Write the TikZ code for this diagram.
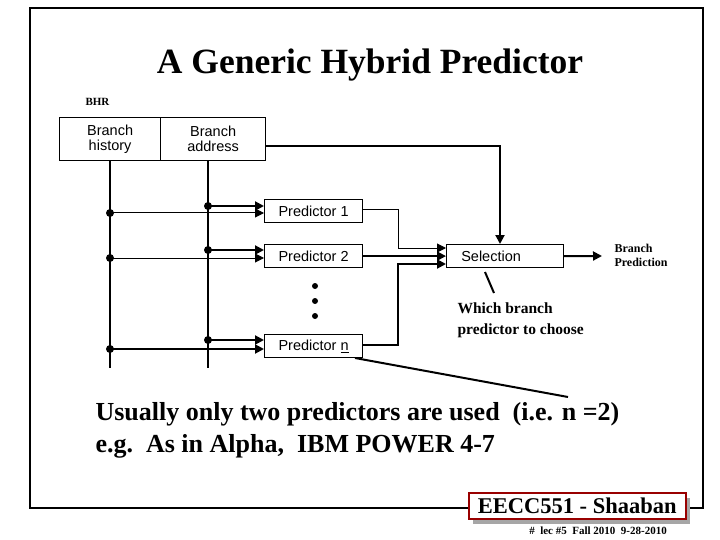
\documentclass[tikz,border=0pt]{standalone}
\usepackage{fontspec}
\setmainfont{Liberation Serif}
\newfontfamily\arialf{Liberation Sans}
\usetikzlibrary{arrows.meta}
\tikzset{
 box/.style={draw,line width=1.2pt,minimum height=23pt,inner sep=0pt,font=\arialf\fontsize{14.5}{15}\selectfont},
 thk/.style={line width=2pt},
 thn/.style={line width=1pt},
 tip/.style={-{Triangle[length=9pt,width=9pt]}},
 dot/.style={circle,fill,inner sep=0pt,minimum size=8pt},
}
\begin{document}
\begin{tikzpicture}[x=1pt,y=-1pt]
\useasboundingbox (0,0) rectangle (720,540);
% frame
\draw[line width=2.2pt] (468,508) -- (30,508) -- (30,8) -- (703,8) -- (703,508) -- (685,508);
\node[font=\bfseries\fontsize{35.5}{40}\selectfont] (title) at (370,65) {A Generic Hybrid Predictor};
\node[font=\bfseries\fontsize{11}{12}\selectfont,anchor=west] (bhr) at (82,102) {BHR};
% BHR box
\node[box,minimum width=101pt,minimum height=43pt,align=center,anchor=north west] (bh) at (59,117) {Branch\\history};
\node[box,minimum width=105pt,minimum height=43pt,align=center,anchor=north west] (ba) at (160,117) {Branch\\address};
\node[box,minimum width=98pt,anchor=north west] (p1) at (264,199) {Predictor 1};
\node[box,minimum width=98pt,anchor=north west] (p2) at (264,244) {Predictor 2};
\node[box,minimum width=98pt,anchor=north west] (pn) at (264,334) {Predictor \underline{n}};
\node[box,minimum width=117pt,anchor=north west] (sel) at (446,244) {\hspace*{-28pt}Selection};
% verticals
\coordinate (hb) at (110,368); \coordinate (ab) at (208,368);
\draw[thk] (bh.south -| 110,0) -- (hb);
\draw[thk] (ba.south -| 208,0) -- (ab);
\foreach \ya/\yh/\p/\hw in {206/213/p1/thn,250/258/p2/thn,340/349/pn/thk}{
 \node[dot] (ja\p) at (208,\ya) {};
 \node[dot] (jh\p) at (110,\yh) {};
 \draw[thk,tip] (ja\p.center) -- (\p.west |- 0,\ya);
 \draw[\hw,tip] (jh\p.center) -- (\p.west |- 0,\yh);
}
\foreach \y/\n in {286/1,301/2,316/3} \node[dot,minimum size=6pt] (d\n) at (315,\y) {};
% to selection
\coordinate (bae) at (265,146);
\draw[thk,tip] (bae) -- (500,146) -- (sel.north -| 500,0);
\draw[thn,tip] (p1.east |- 0,210) -- (398,210) -- (398,248) -- (sel.west |- 0,248);
\draw[thk,tip] (p2.east) -- (sel.west);
\draw[thk,tip] (pn.east |- 0,345) -- (398,345) -- (398,264) -- (sel.west |- 0,264);
\coordinate (bp) at (602,256);
\draw[thk,tip] (sel.east) -- (bp);
\node[font=\bfseries\fontsize{12}{14}\selectfont,align=left,anchor=west] (bpt) at (611,255) {Branch\\Prediction};
% annotation
\coordinate (s1) at (485,272);
\node[font=\bfseries\fontsize{15.5}{21}\selectfont,align=left,anchor=north west] (wh) at (454,299) {Which branch\\predictor to choose};
\draw[thk] (s1) -- (494,293);
\coordinate (pl) at (355,358);
\coordinate (pl2) at (568,397);
\draw[thk] (pl) -- (pl2);
\node[font=\bfseries\fontsize{26}{32}\selectfont,align=left,anchor=north west] (main) at (92,399) {Usually only two predictors are used\ \ (i.e. n =2)\\e.g.\ \ As in Alpha,\ \ IBM POWER 4-7};
% footer
\fill[gray!70] (473,498) rectangle (690,524);
\node[draw=red!60!black,line width=1.5pt,fill=white,minimum width=217pt,minimum height=26pt,inner sep=0pt,anchor=north west,font=\bfseries\fontsize{22.5}{24}\selectfont] (ee) at (468,492) {EECC551 - Shaaban};
\node[font=\bfseries\fontsize{11}{12}\selectfont] (ft) at (598,531) {\#\ \ lec \#5\ \ Fall 2010\ \ 9-28-2010};
\end{tikzpicture}
\end{document}
